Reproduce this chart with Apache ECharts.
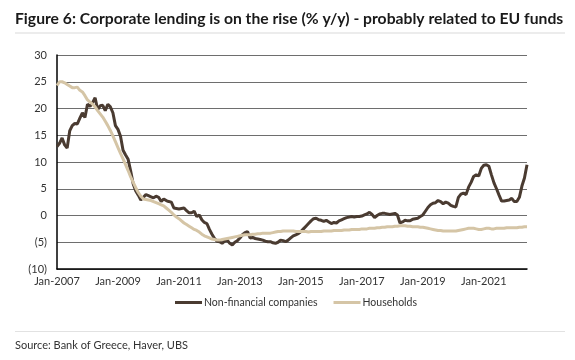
<!DOCTYPE html>
<html>
<head>
<meta charset="utf-8">
<script src="https://cdn.jsdelivr.net/npm/echarts@6/dist/echarts.min.js"></script>
<style>html,body{margin:0;padding:0;background:#fff;}#c{width:575px;height:360px;}</style>
</head>
<body>
<div id="c"></div>
<script>
const titleText = 'Figure 6: Corporate lending is on the rise (% y/y) - probably related to EU funds';
const sourceText = 'Source: Bank of Greece, Haver, UBS';
const seriesNames = ['Non-financial companies', 'Households'];
const startYear = 2007, startMonth = 0, monthCount = 186;
const monthNames = ['Jan','Feb','Mar','Apr','May','Jun','Jul','Aug','Sep','Oct','Nov','Dec'];
const yTicks = { min: -10, max: 30, interval: 5 };

// Non-financial companies, % y/y, monthly Jan-2007 .. Jun-2022
const nfc = [
  12.9, 13.5, 14.5, 13.2, 12.6, 15.8, 16.8, 17.2, 17.1, 18.2, 19.2, 18.3,
  20.8, 20.4, 21.1, 22.0, 19.8, 20.5, 20.6, 19.6, 20.8, 20.3, 19.2, 16.8,
  16.1, 14.8, 12.2, 11.3, 10.5, 8.3, 5.9, 4.6, 3.8, 2.9, 3.4, 3.9,
  3.7, 3.5, 3.3, 3.6, 3.4, 2.6, 3.1, 2.8, 2.6, 2.5, 1.4, 1.3,
  1.2, 1.3, 1.4, 0.9, 0.5, 0.5, 0.8, -0.2, 0.1, -0.8, -1.3, -1.5,
  -2.6, -3.5, -4.3, -4.8, -4.9, -5.2, -4.8, -4.6, -5.2, -5.5, -5.0, -4.7,
  -4.2, -3.6, -3.2, -3.0, -4.2, -4.1, -4.3, -4.4, -4.5, -4.6, -4.8, -4.9,
  -4.9, -5.1, -5.2, -5.0, -4.6, -4.7, -4.9, -4.6, -4.2, -3.8, -3.6, -3.4,
  -3.0, -2.5, -2.0, -1.5, -1.0, -0.6, -0.5, -0.8, -0.9, -1.1, -0.9, -1.2,
  -1.5, -1.3, -1.4, -1.0, -0.8, -0.6, -0.4, -0.3, -0.2, -0.3, -0.2, -0.2,
  -0.1, 0.1, 0.3, 0.6, 0.2, -0.4, 0.0, 0.3, 0.4, 0.4, 0.3, 0.2,
  0.3, 0.4, 0.1, -1.4, -1.2, -0.9, -1.0, -1.0, -0.7, -0.6, -0.5, -0.2,
  0.1, 0.8, 1.5, 2.0, 2.3, 2.4, 2.8, 2.6, 2.2, 2.5, 2.3, 1.9,
  1.7, 1.6, 3.4, 4.0, 4.2, 3.9, 5.3, 6.2, 7.3, 7.6, 7.4, 8.8,
  9.4, 9.5, 9.2, 7.6, 6.1, 5.0, 3.8, 2.7, 2.7, 2.8, 2.9, 3.2,
  2.6, 2.6, 3.4, 5.5, 7.0, 9.5
];

// Households, % y/y, monthly Jan-2007 .. Jun-2022
const households = [
  24.3, 25.0, 25.0, 24.8, 24.5, 24.2, 23.9, 23.9, 24.0, 23.4, 23.1, 22.4,
  21.6, 21.2, 20.8, 20.3, 19.6, 19.0, 18.4, 17.6, 16.8, 15.9, 14.9, 13.8,
  12.7, 11.6, 10.6, 9.5, 8.4, 7.2, 6.2, 5.2, 4.3, 3.6, 3.1, 3.0,
  2.9, 2.8, 2.6, 2.4, 2.2, 2.0, 1.8, 1.4, 1.0, 0.6, 0.1, -0.3,
  -0.6, -1.0, -1.4, -1.7, -2.0, -2.3, -2.6, -2.8, -3.1, -3.5, -3.8, -4.0,
  -4.2, -4.4, -4.5, -4.6, -4.6, -4.5, -4.4, -4.3, -4.2, -4.1, -4.0, -3.9,
  -3.8, -3.7, -3.6, -3.6, -3.6, -3.5, -3.5, -3.4, -3.4, -3.3, -3.3, -3.3,
  -3.3, -3.2, -3.1, -3.0, -3.0, -2.9, -2.9, -2.9, -2.9, -2.9, -3.0, -3.0,
  -3.0, -3.0, -3.0, -3.1, -3.0, -3.0, -3.0, -3.0, -3.0, -2.9, -2.9, -2.9,
  -2.9, -2.8, -2.8, -2.8, -2.8, -2.7, -2.7, -2.7, -2.6, -2.6, -2.6, -2.6,
  -2.5, -2.5, -2.5, -2.4, -2.4, -2.4, -2.3, -2.3, -2.2, -2.2, -2.1, -2.1,
  -2.1, -2.0, -2.0, -1.9, -1.9, -1.9, -2.0, -2.0, -2.1, -2.1, -2.1, -2.2,
  -2.2, -2.3, -2.4, -2.5, -2.6, -2.7, -2.8, -2.8, -2.9, -2.9, -2.9, -2.9,
  -2.9, -2.9, -2.8, -2.7, -2.6, -2.5, -2.4, -2.4, -2.4, -2.5, -2.6, -2.6,
  -2.5, -2.4, -2.4, -2.5, -2.5, -2.4, -2.4, -2.4, -2.4, -2.3, -2.3, -2.3,
  -2.3, -2.3, -2.2, -2.2, -2.1, -2.1
];

const categories = [];
for (let i = 0; i < monthCount; i++) {
  const m = (startMonth + i) % 12;
  const y = startYear + Math.floor((startMonth + i) / 12);
  categories.push(monthNames[m] + '-' + y);
}

const FONT = 'Lato, "Noto Sans", sans-serif';
const chart = echarts.init(document.getElementById('c'), null, { renderer: 'canvas' });
chart.setOption({
  animation: false,
  backgroundColor: '#fff',
  textStyle: { fontFamily: FONT },
  title: {
    text: titleText,
    left: 15, top: 11, padding: 0,
    textStyle: { fontFamily: FONT, fontSize: 15.7, fontWeight: 'bold', color: '#1a1a1a' }
  },
  graphic: [
    { type: 'rect', shape: { x: 15, y: 32, width: 550, height: 2 }, style: { fill: '#ececec' } },
    { type: 'rect', shape: { x: 15, y: 331, width: 550, height: 1 }, style: { fill: '#e2e2e2' } },
    { type: 'text', left: 15, top: 340, style: { text: sourceText, font: '11px ' + FONT, fill: '#333' } }
  ],
  legend: {
    left: 175, top: 297, padding: 0,
    icon: 'rect', itemWidth: 27, itemHeight: 3, itemGap: 16,
    textStyle: { fontFamily: FONT, fontSize: 10.5, color: '#333', padding: [0, 0, 0, -3] },
    data: seriesNames
  },
  grid: { left: 57, right: 48, top: 55, bottom: 91, containLabel: false },
  xAxis: {
    type: 'category',
    data: categories,
    boundaryGap: false,
    axisLine: { show: true, onZero: false, lineStyle: { color: '#000', width: 1.5 } },
    axisTick: { show: false },
    axisLabel: { interval: 23, color: '#333', fontSize: 11, fontFamily: FONT, margin: 7 },
    splitLine: { show: false }
  },
  yAxis: {
    type: 'value',
    min: yTicks.min, max: yTicks.max, interval: yTicks.interval,
    axisLine: { show: true, lineStyle: { color: '#000', width: 1.5 } },
    axisTick: { show: false },
    axisLabel: {
      color: '#333', fontSize: 11, fontFamily: FONT, margin: 10,
      formatter: v => v < 0 ? '(' + Math.abs(v) + ')' : String(v)
    },
    splitLine: { show: true, lineStyle: { color: '#6e6e6e', width: 1 } }
  },
  series: [
    {
      name: seriesNames[0], type: 'line', data: nfc, showSymbol: false,
      lineStyle: { color: '#4a3b31', width: 3 }, itemStyle: { color: '#4a3b31' }
    },
    {
      name: seriesNames[1], type: 'line', data: households, showSymbol: false,
      lineStyle: { color: '#d5c5a6', width: 3 }, itemStyle: { color: '#d5c5a6' }
    }
  ]
});
</script>
</body>
</html>
